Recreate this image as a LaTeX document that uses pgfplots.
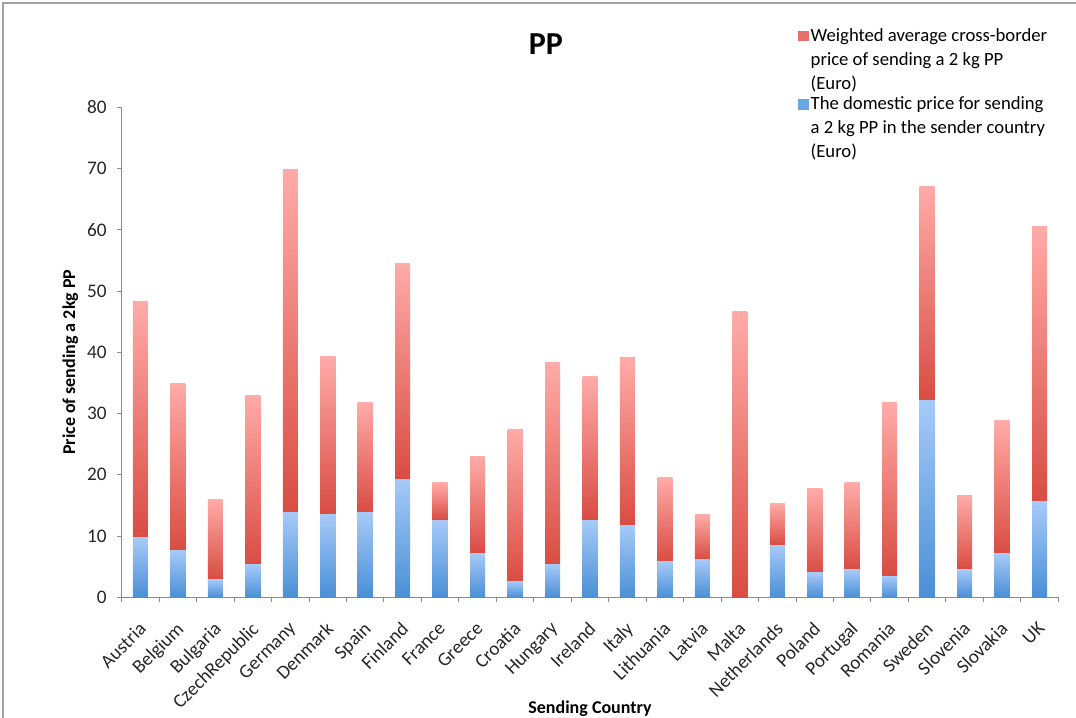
\documentclass[border=0pt]{standalone}
\usepackage{fontspec}
\setmainfont{Carlito}
\usepackage{pgfplots}
\usepackage{pgfplotstable}
\pgfplotsset{compat=1.18}
\definecolor{redtop}{HTML}{FFABA8}
\definecolor{redbot}{HTML}{D94C42}
\definecolor{bluetop}{HTML}{A6CAF8}
\definecolor{bluebot}{HTML}{4A8FD6}
\definecolor{redleg}{HTML}{E8706A}
\definecolor{blueleg}{HTML}{6AA5E6}
\definecolor{axgray}{HTML}{8C8C8C}

\pgfplotstableread{
x country dom total
0  Austria        9.7  48.3
1  Belgium        7.7  34.9
2  Bulgaria       2.9  16.0
3  CzechRepublic  5.3  33.0
4  Germany       13.9  69.9
5  Denmark       13.6  39.4
6  Spain         13.9  31.8
7  Finland       19.3  54.5
8  France        12.6  18.7
9  Greece         7.2  23.0
10 Croatia        2.6  27.4
11 Hungary        5.4  38.3
12 Ireland       12.6  36.1
13 Italy         11.8  39.1
14 Lithuania      5.8  19.5
15 Latvia         6.2  13.5
16 Malta          0.0  46.6
17 Netherlands    8.5  15.3
18 Poland         4.0  17.7
19 Portugal       4.5  18.7
20 Romania        3.4  31.8
21 Sweden        32.1  67.1
22 Slovenia       4.5  16.6
23 Slovakia       7.1  28.8
24 UK            15.6  60.5
}\data

\begin{document}
\begin{tikzpicture}
\path[use as bounding box] (0,0) rectangle (807pt,538.5pt);
\draw[axgray!80, line width=0.8pt] (2.25pt,0) -- (2.25pt,536.25pt) -- (807pt,536.25pt);
\begin{axis}[
  scale only axis,
  width=702.4pt, height=367.5pt,
  at={(91.3pt,90.5pt)}, anchor=south west,
  ybar stacked,
  stack negative=on previous,
  bar width=0.4,
  xmin=-0.5, xmax=24.5,
  ymin=0, ymax=80,
  ytick={0,10,...,80},
  xtick={0,...,24},
  xticklabels={Austria,Belgium,Bulgaria,CzechRepublic,Germany,Denmark,Spain,Finland,France,Greece,Croatia,Hungary,Ireland,Italy,Lithuania,Latvia,Malta,Netherlands,Poland,Portugal,Romania,Sweden,Slovenia,Slovakia,UK},
  minor xtick={-0.5,0.5,...,24.5},
  axis lines*=left,
  axis line style={-, draw=axgray, line width=0.8pt},
  tick align=outside,
  major tick length=3.75pt,
  minor tick length=3.75pt,
  major x tick style={draw=none},
  minor x tick style={draw=axgray, line width=0.8pt},
  major y tick style={draw=axgray, line width=0.8pt},
  /pgf/number format/assume math mode=true,
  tick label style={font=\fontsize{14.4}{16}\selectfont, text=black!85},
  xticklabel style={rotate=45, anchor=north east, inner sep=1pt, xshift=-10pt, yshift=-7.2pt},
  yticklabel style={xshift=-4pt},
  title={\textbf{PP}},
  title style={font=\fontsize{24}{28}\selectfont, at={(axis description cs:0.453,1.113)}, anchor=center},
  xlabel={\textbf{Sending Country}},
  xlabel style={font=\fontsize{13.5}{16}\selectfont, at={(axis description cs:0.5,-0.228)}, anchor=center},
  ylabel={\textbf{Price of sending a 2kg PP}},
  ylabel style={font=\fontsize{13.5}{16}\selectfont, at={(axis description cs:-0.055,0.48)}, anchor=center, rotate=0},
  legend style={at={(axis description cs:0.722,1.168)}, anchor=north west, draw=none, fill=none, inner sep=0pt, row sep=0pt,
    font=\fontsize{14}{18}\selectfont, cells={align=left, anchor=north west}},
]
\pgfplotsinvokeforeach{0,...,24}{
  \pgfmathtruncatemacro\nxt{#1+1}
  \addplot[draw=none, top color=bluetop, bottom color=bluebot, forget plot]
    table[x=x, y=dom, skip coords between index={0}{#1}, skip coords between index={\nxt}{30}] {\data};
  \addplot[draw=none, top color=redtop, bottom color=redbot, forget plot]
    table[x=x, y expr=\thisrow{total}-\thisrow{dom}, skip coords between index={0}{#1}, skip coords between index={\nxt}{30}] {\data};
  \addplot[draw=none, fill=none, forget plot]
    table[x=x, y expr=-\thisrow{total}, skip coords between index={0}{#1}, skip coords between index={\nxt}{30}] {\data};
}
\addlegendimage{legend image code/.code={\fill[redleg] (0pt,-4.2pt) rectangle (7pt,-11.2pt);}}
\addlegendentry{Weighted average cross-border\\price of sending a 2 kg PP\\(Euro)}
\addlegendimage{legend image code/.code={\fill[blueleg] (0pt,-4.2pt) rectangle (7pt,-11.2pt);}}
\addlegendentry{The domestic price for sending\\a 2 kg PP in the sender country\\(Euro)}
\end{axis}
\end{tikzpicture}
\end{document}
